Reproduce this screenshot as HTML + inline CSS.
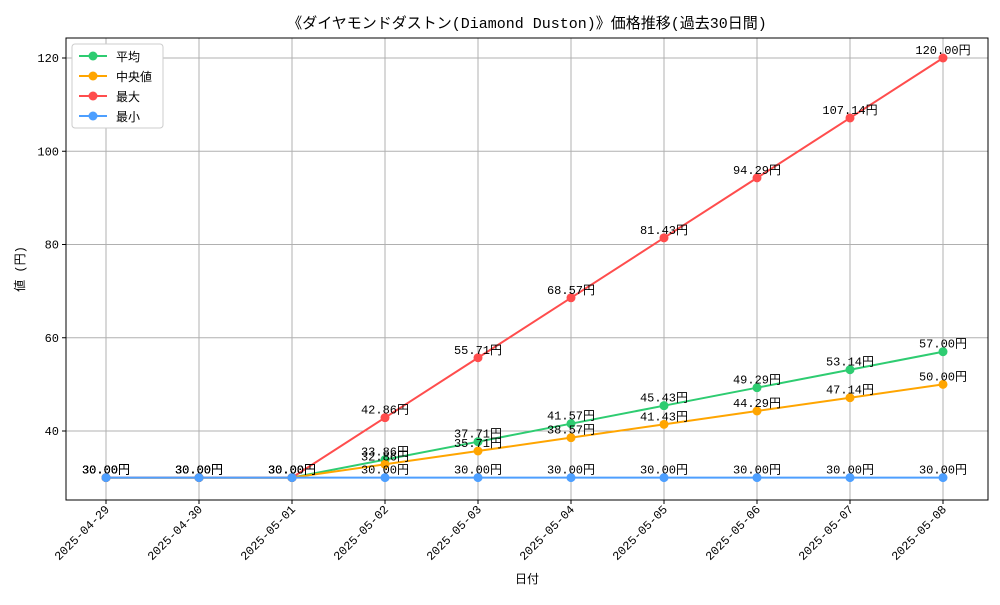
<!DOCTYPE html>
<html><head><meta charset="utf-8"><style>
body{margin:0;background:#fff;font-family:"Liberation Sans","Noto Sans CJK JP",sans-serif}
svg text{font-family:"Liberation Mono","Noto Sans CJK JP",monospace}
</style></head><body>
<svg id="chart" width="1000" height="600"></svg>
<script>
const categories=["2025-04-29","2025-04-30","2025-05-01","2025-05-02","2025-05-03","2025-05-04","2025-05-05","2025-05-06","2025-05-07","2025-05-08"];
const avgValues=[30,30,30,33.86,37.71,41.57,45.43,49.29,53.14,57.00];
const medianValues=[30,30,30,32.86,35.71,38.57,41.43,44.29,47.14,50.00];
const maxValues=[30,30,30,42.86,55.71,68.57,81.43,94.29,107.14,120.00];
const minValues=[30,30,30,30,30,30,30,30,30,30];
const yTicks=[40,60,80,100,120];
const seriesNames=["平均","中央値","最大","最小"];
const colors=["#2ecc71","#ffa500","#ff4d4d","#4d9fff"];
const NS="http://www.w3.org/2000/svg";
const svg=document.getElementById('chart');
const L=66,R=988,T=38,B=500;
function x(i){return 106+i*(943-106)/(categories.length-1);}
function y(v){return 431-(v-40)*(373/80);}
function mk(tag,attrs,parent){const e=document.createElementNS(NS,tag);for(const k in attrs)e.setAttribute(k,attrs[k]);(parent||svg).appendChild(e);return e;}
function txt(s,attrs,name){const e=mk('text',attrs);e.textContent=s;return e;}
// grid
categories.forEach((c,i)=>{const g=mk('line',{x1:x(i),x2:x(i),y1:T,y2:B,stroke:'#b0b0b0','stroke-width':1});

const t=txt(c,{x:0,y:0,'font-size':12,'text-anchor':'end',transform:`translate(${x(i)+4},${B+10}) rotate(-45)`,fill:'#000'},'x-tick-label');
mk('line',{x1:x(i),x2:x(i),y1:B,y2:B+4,stroke:'#000'});});
yTicks.forEach(v=>{const g=mk('line',{x1:L,x2:R,y1:y(v),y2:y(v),stroke:'#b0b0b0','stroke-width':1});

mk('line',{x1:L-4,x2:L,y1:y(v),y2:y(v),stroke:'#000'});
txt(String(v),{x:L-7,y:y(v)+4,'font-size':12,'text-anchor':'end'},'y-tick-label');});
const frame=mk('rect',{x:L,y:T,width:R-L,height:B-T,fill:'none',stroke:'#000','stroke-width':1});

const all=[avgValues,medianValues,maxValues,minValues];
all.forEach((vals,s)=>{
 const p=mk('polyline',{points:vals.map((v,i)=>x(i)+','+y(v)).join(' '),fill:'none',stroke:colors[s],'stroke-width':2});
 
 vals.forEach((v,i)=>{const c=mk('circle',{cx:x(i),cy:y(v),r:4.5,fill:colors[s]});
 
 txt(v.toFixed(2)+'円',{x:x(i),y:y(v)-4,'font-size':12,'text-anchor':'middle'},'value-label');});
});
txt('《ダイヤモンドダストン(Diamond Duston)》価格推移(過去30日間)',{x:527,y:28,'font-size':15,'text-anchor':'middle'},'chart-title');
txt('日付',{x:527,y:583,'font-size':12,'text-anchor':'middle'},'x-axis-title');
txt('値 (円)',{x:0,y:0,'font-size':12,'text-anchor':'middle',transform:'translate(24,269) rotate(-90)'},'y-axis-title');
const lg=mk('rect',{x:72,y:44,width:91,height:84,fill:'#fff',stroke:'#ccc',rx:3});

seriesNames.forEach((n,s)=>{const yy=56+s*20;
 mk('line',{x1:79,x2:107,y1:yy,y2:yy,stroke:colors[s],'stroke-width':2});
 mk('circle',{cx:93,cy:yy,r:4.5,fill:colors[s]});
 txt(n,{x:116,y:yy+5,'font-size':12},'legend-entry');});
</script>
</body></html>
